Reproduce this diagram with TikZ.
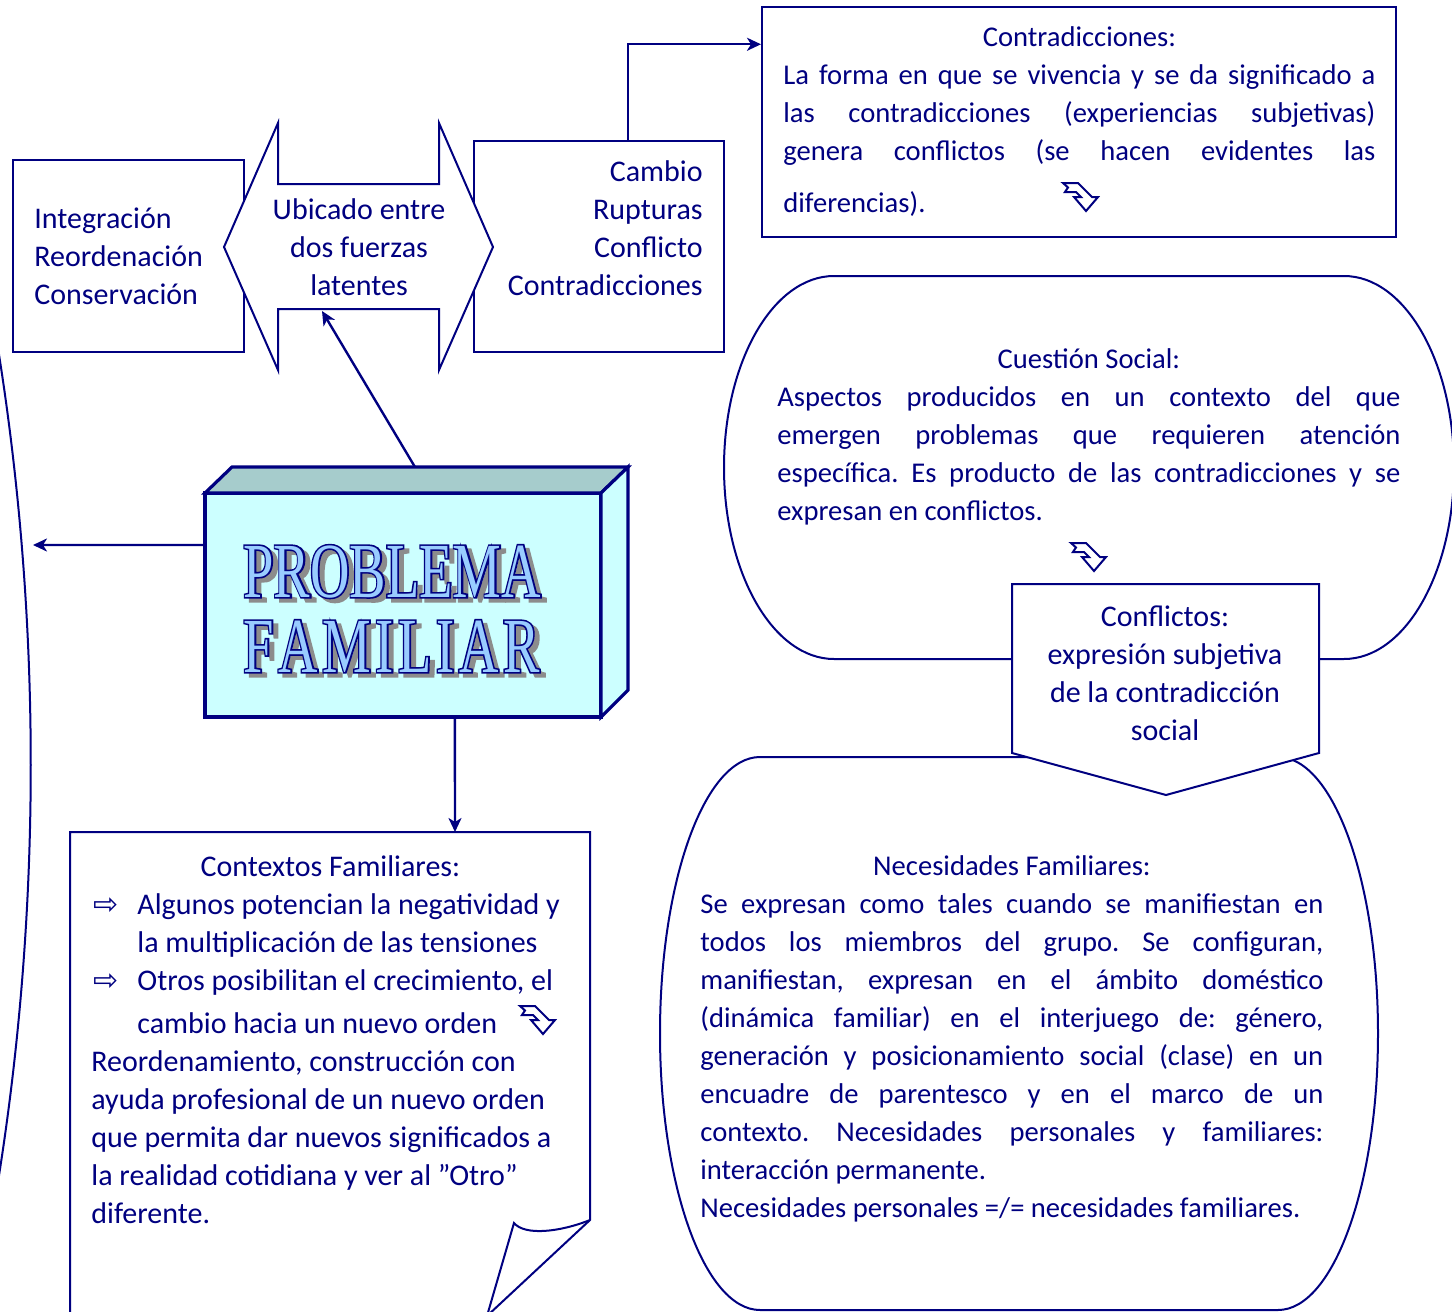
\documentclass[tikz,border=0pt]{standalone}
\usepackage{fontspec}
\setmainfont{Carlito}
\newfontfamily\symfont{DejaVu Sans}
\newfontfamily\bigfont[FakeStretch=0.7]{Liberation Serif}
\newfontfamily\bigfontbold[FakeStretch=0.7,FakeBold=4]{Liberation Serif}
\usepackage{tikz}
\usetikzlibrary{arrows.meta,positioning,calc}
\definecolor{NAVY}{HTML}{000080}
\definecolor{FRONT}{HTML}{CCFFFF}
\definecolor{ROOF}{HTML}{A6CCCC}
\definecolor{LETTER}{HTML}{99CCFF}
\definecolor{SHADOW}{HTML}{8C8C8C}
\tikzstyle{BOX} = [rectangle, draw=NAVY, line width=1pt, fill=white, inner sep=0pt]
\tikzstyle{SHAPE} = [draw=NAVY, line width=1pt, fill=white]
\tikzstyle{TEXT_1} = [inner sep=0pt, text=NAVY, font=\fontsize{15}{19}\selectfont]
\tikzstyle{TEXT_2} = [inner sep=0pt, text=NAVY, anchor=base west, align=justify, font=\fontsize{14.3}{19}\selectfont]
\tikzstyle{ARROW} = [draw=NAVY, line width=1.2pt, -{Stealth[length=7pt,width=6.5pt,inset=2pt]}]
\newcommand{\BULLET}{\makebox[23pt][l]{\hspace{1pt}{\symfont\fontsize{15}{15}\selectfont ⇨}}}
\newcommand{\FAMWORD}{F\kern2.3pt A\kern2.3pt M\kern2.3pt I\kern2.3pt L\kern2.3pt I\kern2.3pt A\kern2.3pt R}
\tikzset{TURN/.pic={
  \path [draw=NAVY, line width=1pt, fill=white, line join=miter]
    (-17,-14) -- (-2,-14) -- (12,0) -- (18,0) -- (6,14) -- (-6,0) -- (1,0)
    -- (-4,-5) -- (-15,-5) -- (-12,-9.5) -- cycle;}}

\begin{document}
\frenchspacing
\begin{tikzpicture}[x=0.5pt, y=-0.5pt]
% Define
\tikzstyle{CUBE} = [draw=NAVY, line width=1.6pt, line join=miter]
\tikzstyle{TITLE} = [anchor=base west, inner sep=0pt, align=left]
% Frame
\useasboundingbox (0,0) rectangle (1452,1312);
\clip (0,0) rectangle (1452,1312);
% Place shapes
\node [BOX, minimum width=115.5pt, minimum height=96pt] (keep) at (128.5,256) {};
\node [BOX, minimum width=125pt, minimum height=105.5pt] (changes) at (599,246.5) {};
\path [SHAPE] (224,247) -- (278,123) -- (278,184) -- (439,184) -- (439,123) -- (493,247)
  -- (439,370) -- (439,309) -- (278,309) -- (278,370) -- cycle;
\node [BOX, minimum width=317pt, minimum height=115pt] (contra) at (1079,122) {};
\path [SHAPE] (834,276) -- (1344,276) .. controls (1404.8,276) and (1454,361.7) .. (1454,467.5)
  .. controls (1454,573.3) and (1404.8,659) .. (1344,659) -- (834,659)
  .. controls (773.2,659) and (724,573.3) .. (724,467.5)
  .. controls (724,361.7) and (773.2,276) .. cycle;
\path [SHAPE] (760,757) -- (1278,757) .. controls (1333.2,757) and (1378,880.8) .. (1378,1033.5)
  .. controls (1378,1186.2) and (1333.2,1310) .. (1278,1310) -- (760,1310)
  .. controls (704.8,1310) and (660,1186.2) .. (660,1033.5)
  .. controls (660,880.8) and (704.8,757) .. cycle;
\path [SHAPE] (1012,584) -- (1319,584) -- (1319,753) -- (1166,795) -- (1012,753) -- cycle;
\path [draw=NAVY, line width=1pt] (-12,290) .. controls (45,600) and (45,930) .. (-12,1240);
\path [draw=NAVY, line width=1pt] (70,1340) -- (70,832) -- (590,832) -- (590,1220) -- (487,1316);
\path [draw=NAVY, line width=1pt] (487,1316) -- (514,1223) .. controls (525,1236) and (560,1232) .. (590,1220);
% Cube
\node [CUBE, fill=FRONT, minimum width=198pt, minimum height=112pt, inner sep=0pt, outer sep=0pt] (problem) at (403,605) {};
\path [CUBE, fill=ROOF] (problem.north west) -- ++(27,-26) -- ++(396,0) -- (problem.north east) -- cycle;
\path [CUBE, fill=FRONT] (problem.north east) -- ++(27,-26) -- ++(0,223) -- (problem.south east) -- cycle;
\node [TITLE, text=SHADOW, font=\bigfontbold\fontsize{39}{37.5}\selectfont] (title_shadow) at (248,676) {PROBLEMA\\\FAMWORD};
\node [TITLE, text=NAVY, font=\bigfontbold\fontsize{39}{37.5}\selectfont] (title_line) at (243,672) {PROBLEMA\\\FAMWORD};
\node [TITLE, text=LETTER, font=\bigfont\fontsize{39}{37.5}\selectfont] (title) at (243,672) {PROBLEMA\\\FAMWORD};
% Place texts
\node [TEXT_1, anchor=base west, align=left] (keep_text) at (34,304) {Integración\\Reordenación\\Conservación};
\node [TEXT_1, anchor=base, align=center] (forces) at (359,295) {Ubicado entre\\dos fuerzas\\latentes};
\node [TEXT_1, anchor=base east, align=right] (changes_text) at (703,295) {Cambio\\Rupturas\\Conflicto\\Contradicciones};
\node [TEXT_2, text width=296pt] (contra_text) at (783,46) {%
  \hspace*{\fill}Contradicciones:\hspace*{\fill}\\
  La forma en que se vivencia y se da significado a\linebreak
  las contradicciones (experiencias subjetivas)\linebreak
  genera conflictos (se hacen evidentes las\linebreak
  \rule{0pt}{23pt}diferencias).};
\node [TEXT_2, text width=311.5pt] (social_text) at (777,368) {%
  \hspace*{\fill}Cuestión Social:\hspace*{\fill}\\
  Aspectos producidos en un contexto del que\linebreak
  emergen problemas que requieren atención\linebreak
  específica. Es producto de las contradicciones y se\linebreak
  expresan en conflictos.};
\node [TEXT_1, anchor=base, align=center] (conflict_text) at (1165,740) {Conflictos:\\expresión subjetiva\\de la contradicción\\social};
\node [TEXT_2, text width=311.5pt] (needs_text) at (700,875) {%
  \hspace*{\fill}Necesidades Familiares:\hspace*{\fill}\\
  Se expresan como tales cuando se manifiestan en\linebreak
  todos los miembros del grupo. Se configuran,\linebreak
  manifiestan, expresan en el ámbito doméstico\linebreak
  (dinámica familiar) en el interjuego de: género,\linebreak
  generación y posicionamiento social (clase) en un\linebreak
  encuadre de parentesco y en el marco de un\linebreak
  contexto. Necesidades personales y familiares:\linebreak
  interacción permanente.\\
  \makebox[0pt][l]{Necesidades personales =/= necesidades familiares.}};
\node [TEXT_1, anchor=base west, align=left] (context_text) at (91,1223) {%
  \makebox[239pt][c]{Contextos Familiares:}\\
  \BULLET Algunos potencian la negatividad y\\
  \hspace*{23pt}la multiplicación de las tensiones\\
  \BULLET Otros posibilitan el crecimiento, el\\
  \hspace*{23pt}\rule{0pt}{18pt}cambio hacia un nuevo orden\\
  Reordenamiento, construcción con\\
  ayuda profesional de un nuevo orden\\
  que permita dar nuevos significados a\\
  la realidad cotidiana y ver al "Otro"\\
  diferente.};
\pic at (1080,197) {TURN};
\pic at (1088,557) {TURN};
\pic at (537,1020) {TURN};
% LINES and ARROWS
\coordinate (FORCES_S) at (322,311);
\coordinate (ARC_HIT) at (33,545);
\coordinate (CONTEXT_N) at (455,832);
\path [ARROW] ($(problem.north west)!0.462!(problem.north east)+(27,-26)$) -- (FORCES_S);
\path [ARROW] ($(problem.north west)!0.232!(problem.south west)$) -- (ARC_HIT);
\path [ARROW] ($(problem.south west)!0.631!(problem.south east)$) -- (CONTEXT_N);
\path [ARROW] ($(changes.north west)!0.616!(changes.north east)$) |- ($(contra.north west)!0.165!(contra.south west)$);
\end{tikzpicture}
\end{document}
